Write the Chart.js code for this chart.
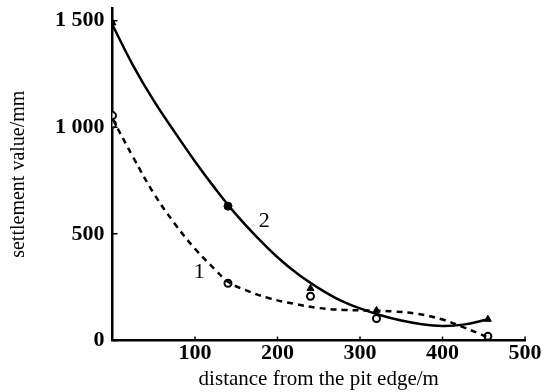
<!DOCTYPE html>
<html>
<head>
<meta charset="utf-8">
<script src="https://cdn.jsdelivr.net/npm/chart.js@4"></script>
<style>
  html, body { margin: 0; padding: 0; background: #fff; }
  #wrap { width: 552px; height: 392px; }
</style>
</head>
<body>
<div id="wrap"><canvas id="myChart" width="552" height="392"></canvas></div>
<script>
// fitted curves (distance m, settlement mm)
var curve2X = [0, 25, 50, 75, 100, 125, 150, 175, 200, 225, 250, 275, 300, 325, 350, 375, 400, 425, 455];
var curve2Y = [1480, 1290, 1125, 980, 840, 710, 590, 485, 390, 310, 245, 190, 150, 118, 93, 76, 68, 74, 99];
var curve1X = [0, 25, 50, 75, 100, 125, 140, 160, 190, 220, 250, 280, 310, 340, 370, 400, 425, 455];
var curve1Y = [1040, 860, 690, 550, 430, 330, 275, 238, 198, 172, 152, 143, 140, 136, 124, 98, 62, 15];

// measured points
var meas2X = [0, 140, 240, 320, 455];
var meas2Y = [1490, 630, 244, 141, 99];
var meas2Style = ['triangle', 'circle', 'triangle', 'triangle', 'triangle'];
var meas1X = [0, 0, 140, 240, 320, 455];
var meas1Y = [1055, 1015, 268, 207, 103, 19];

var xTicks = [100, 200, 300, 400, 500];
var yTicks = [0, 500, 1000, 1500];

// curve labels
var curveLabels = [
    { text: '1', x: 105, y: 320 },
    { text: '2', x: 184, y: 560 }
];

function pts(xs, ys) {
    return xs.map(function (x, i) { return { x: x, y: ys[i] }; });
}

var serif = '"Liberation Serif", "DejaVu Serif", serif';

var innerTicks = {
    id: 'innerTicks',
    afterDraw: function (chart) {
        var c = chart.ctx, xs = chart.scales.x, ys = chart.scales.y;
        var a = chart.chartArea;
        c.save();
        c.strokeStyle = '#000';
        c.lineWidth = 1.5;
        c.beginPath();
        xTicks.forEach(function (v) {
            var px = xs.getPixelForValue(v);
            c.moveTo(px, a.bottom);
            c.lineTo(px, a.bottom - 4);
        });
        yTicks.forEach(function (v) {
            var py = ys.getPixelForValue(v);
            c.moveTo(a.left, py);
            c.lineTo(a.left + 5, py);
        });
        c.stroke();
        c.fillStyle = '#000';
        c.font = '22px ' + serif;
        c.textAlign = 'center';
        c.textBaseline = 'middle';
        curveLabels.forEach(function (l) {
            c.fillText(l.text, xs.getPixelForValue(l.x), ys.getPixelForValue(l.y));
        });
        c.restore();
    }
};

var ctx = document.getElementById('myChart').getContext('2d');
var myChart = new Chart(ctx, {
    type: 'scatter',
    data: {
        datasets: [{
            label: 'curve 2',
            data: pts(curve2X, curve2Y),
            showLine: true,
            borderColor: '#000',
            borderWidth: 2.5,
            pointRadius: 0,
            tension: 0.4
        }, {
            label: 'curve 1',
            data: pts(curve1X, curve1Y),
            showLine: true,
            borderColor: '#000',
            borderWidth: 2.5,
            borderDash: [6, 5],
            pointRadius: 0,
            tension: 0.4
        }, {
            label: 'measured 2',
            data: pts(meas2X, meas2Y),
            showLine: false,
            pointStyle: meas2Style,
            pointRadius: 4,
            backgroundColor: '#000',
            borderColor: '#000'
        }, {
            label: 'measured 1',
            data: pts(meas1X, meas1Y),
            showLine: false,
            pointStyle: 'circle',
            pointRadius: 3.5,
            borderWidth: 2,
            backgroundColor: '#fff',
            borderColor: '#000'
        }]
    },
    options: {
        responsive: false,
        animation: false,
        layout: { padding: { top: 8, right: 27, left: 7, bottom: 0 } },
        plugins: {
            legend: { display: false },
            tooltip: { enabled: false }
        },
        scales: {
            x: {
                type: 'linear',
                min: 0,
                max: 500,
                afterBuildTicks: function (axis) {
                    axis.ticks = xTicks.map(function (v) { return { value: v }; });
                },
                grid: { display: false, drawTicks: false },
                border: { display: true, color: '#000', width: 2.5 },
                ticks: {
                    color: '#000',
                    padding: 0,
                    font: { family: serif, size: 22, weight: 'bold' }
                },
                title: {
                    display: true,
                    text: 'distance from the pit edge/m',
                    color: '#000',
                    padding: { top: 0, bottom: 0 },
                    font: { family: serif, size: 21 }
                }
            },
            y: {
                min: 0,
                max: 1560,
                afterBuildTicks: function (axis) {
                    axis.ticks = yTicks.map(function (v) { return { value: v }; });
                },
                afterFit: function (axis) {
                    axis.paddingTop = 0;
                },
                grid: { display: false, drawTicks: false },
                border: { display: true, color: '#000', width: 2.5 },
                ticks: {
                    color: '#000',
                    padding: 8,
                    font: { family: serif, size: 22, weight: 'bold' },
                    callback: function (v) {
                        return String(v).replace(/(\d)(\d{3})$/, '$1 $2');
                    }
                },
                title: {
                    display: true,
                    text: 'settlement value/mm',
                    color: '#000',
                    padding: { top: 0, bottom: 16 },
                    font: { family: serif, size: 20 }
                }
            }
        }
    },
    plugins: [innerTicks]
});
</script>
</body>
</html>
